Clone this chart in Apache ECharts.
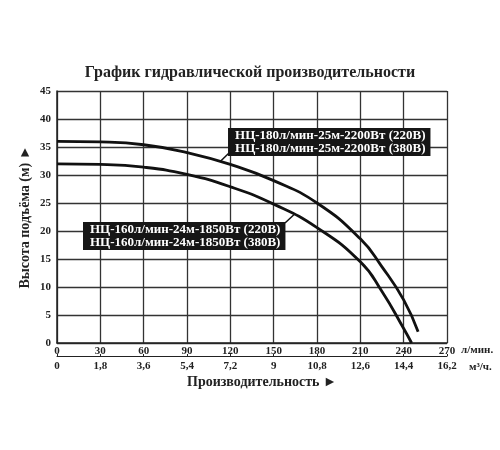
<!DOCTYPE html>
<html>
<head>
<meta charset="utf-8">
<script src="https://cdn.jsdelivr.net/npm/echarts@6/dist/echarts.min.js"></script>
<style>
  html, body { margin: 0; padding: 0; background: #fff; }
  #chart { width: 500px; height: 450px; }
</style>
</head>
<body>
<div id="chart"></div>
<script>
// подача, л/мин и напор, м
const flow180 = [0, 30, 60, 90, 120, 150, 180, 210, 225, 240, 250];
const head180 = [36.0, 35.9, 35.4, 34.0, 31.9, 29.0, 25.0, 18.6, 13.6, 7.7, 2.0];
const flow160 = [0, 30, 60, 90, 120, 150, 180, 210, 225, 240, 245.5];
const head160 = [32.0, 31.9, 31.4, 30.1, 27.9, 24.8, 20.6, 14.5, 9.2, 2.6, 0];

// подписи второй шкалы (м3/ч)
const m3Labels = ['0', '1,8', '3,6', '5,4', '7,2', '9', '10,8', '12,6', '14,4', '16,2'];

const label180 = 'НЦ-180л/мин-25м-2200Вт (220В)\nНЦ-180л/мин-25м-2200Вт (380В)';
const label160 = 'НЦ-160л/мин-24м-1850Вт (220В)\nНЦ-160л/мин-24м-1850Вт (380В)';

const FONT = '"Liberation Serif", "DejaVu Serif", serif';
const txt = (size) => ({ fontFamily: FONT, fontWeight: 'bold', fontSize: size, color: '#222' });

const chart = echarts.init(document.getElementById('chart'));

const option = {
  animation: false,
  title: [
    {
      text: 'График гидравлической производительности',
      left: 'center',
      top: 60,
      textStyle: txt(16),
    },
    {
      text: 'Производительность ►',
      left: 182,
      top: 370,
      textStyle: txt(14),
    },
  ],
  grid: { left: 57, right: 53, top: 91, bottom: 107 },
  xAxis: [
    {
      type: 'value',
      min: 0,
      max: 270,
      interval: 30,
      position: 'bottom',
      axisLine: { show: true, lineStyle: { color: '#222', width: 1.5 } },
      axisTick: { show: false },
      axisLabel: Object.assign({ margin: 3 }, txt(11)),
      splitLine: { show: true, lineStyle: { color: '#333', width: 1.3 } },
      name: 'л/мин.',
      nameLocation: 'end',
      nameGap: 14,
      nameMoveOverlap: false,
      nameTextStyle: Object.assign({ verticalAlign: 'top', padding: [2, 0, 0, 0] }, txt(11)),
    },
    {
      type: 'value',
      min: 0,
      max: 270,
      interval: 30,
      position: 'bottom',
      offset: 13,
      axisLine: { show: true, lineStyle: { color: '#222', width: 1 } },
      axisTick: { show: true, inside: true, length: 2, lineStyle: { color: '#222' } },
      axisLabel: Object.assign({
        margin: 5,
        formatter: (v) => m3Labels[Math.round(v / 30)],
      }, txt(11)),
      splitLine: { show: false },
      name: 'м³/ч.',
      nameLocation: 'end',
      nameGap: 22,
      nameMoveOverlap: false,
      nameTextStyle: Object.assign({ verticalAlign: 'top', padding: [6, 0, 0, 0] }, txt(11)),
    },
  ],
  yAxis: {
    type: 'value',
    min: 0,
    max: 45,
    interval: 5,
    axisLine: { show: true, lineStyle: { color: '#222', width: 1.5 } },
    axisTick: { show: false },
    axisLabel: Object.assign({ margin: 6 }, txt(11)),
    splitLine: { show: true, lineStyle: { color: '#333', width: 1.3 } },
    name: 'Высота подъёма (м) ►',
    nameLocation: 'middle',
    nameGap: 25,
    nameMoveOverlap: false,
    nameRotate: 90,
    nameTextStyle: txt(14),
  },
  series: [
    {
      type: 'line',
      smooth: true,
      showSymbol: false,
      data: flow180.map((x, i) => [x, head180[i]]),
      lineStyle: { color: '#111', width: 2.8 },
    },
    {
      type: 'line',
      smooth: true,
      showSymbol: false,
      data: flow160.map((x, i) => [x, head160[i]]),
      lineStyle: { color: '#111', width: 2.8 },
    },
  ],
};

chart.setOption(option);

// подписи с выносками
const px = (p) => chart.convertToPixel({ gridIndex: 0 }, p);
const box1 = px([118.4, 38.4]);
const box2 = px([18, 21.6]);
const tip1 = px([113, 32.4]);
const tip2 = px([164, 22.9]);
const boxStyle = (text) => ({
  text: text,
  fill: '#fff',
  font: 'bold 13px ' + FONT,
  lineHeight: 13,
  backgroundColor: '#161616',
  padding: [1, 5, 1, 7],
});

chart.setOption({
  graphic: [
    {
      type: 'line',
      shape: { x1: box1[0] + 1, y1: box1[1] + 25, x2: tip1[0], y2: tip1[1] },
      style: { stroke: '#111', lineWidth: 1.5 },
      z: 100,
    },
    {
      type: 'text',
      x: box1[0],
      y: box1[1],
      style: boxStyle(label180),
      z: 101,
    },
    {
      type: 'line',
      shape: { x1: box2[0] + 202, y1: box2[1] + 1, x2: tip2[0], y2: tip2[1] },
      style: { stroke: '#111', lineWidth: 1.5 },
      z: 100,
    },
    {
      type: 'text',
      x: box2[0],
      y: box2[1],
      style: boxStyle(label160),
      z: 101,
    },
  ],
});
</script>
</body>
</html>
